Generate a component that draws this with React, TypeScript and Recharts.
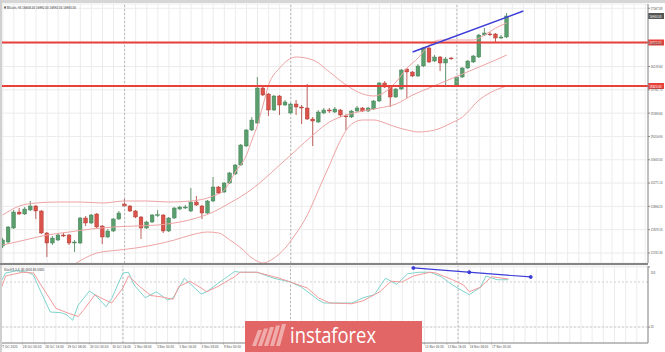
import {
  Bar, CartesianGrid, ComposedChart, Line, ReferenceDot, ReferenceLine, XAxis, YAxis,
} from 'recharts'

// Bitcoin H4 candles, 27 Oct 2020 08:00 .. 17 Nov 2020 12:00
const opens = [
  13264, 13328, 13552, 13808, 13776, 13840, 13904, 13824, 13472, 13312,
  13360, 13440, 13440, 13312, 13312, 13712, 13632, 13776, 13584, 13408,
  13504, 13696, 13936, 13904, 13824, 13728, 13552, 13648, 13755, 13760,
  13504, 13712, 13856, 13872, 13824, 13968, 13904, 13792, 13984, 14208,
  14128, 14272, 14416, 14560, 14864, 15120, 15232, 15792, 15696, 15440,
  15664, 15520, 15392, 15536, 15488, 15472, 15296, 15248, 15392, 15440,
  15408, 15440, 15344, 15328, 15424, 15472, 15424, 15456, 15584, 15872,
  15824, 15648, 15776, 16096, 16048, 15984, 16144, 16432, 16224, 16288,
  16192, 16272, 15824, 15968, 16112, 16208, 16288, 16640, 16656, 16656,
  16592, 16608,
]
const closes = [
  13360, 13568, 13808, 13776, 13856, 13904, 13824, 13472, 13312, 13392,
  13440, 13424, 13312, 13328, 13712, 13632, 13760, 13568, 13408, 13504,
  13696, 13792, 13904, 13824, 13728, 13552, 13648, 13760, 13765, 13504,
  13712, 13872, 13888, 13888, 13968, 13920, 13792, 13984, 14208, 14112,
  14272, 14432, 14560, 14880, 15120, 15280, 15792, 15680, 15440, 15664,
  15520, 15568, 15536, 15488, 15472, 15296, 15264, 15408, 15440, 15424,
  15456, 15360, 15336, 15424, 15472, 15424, 15472, 15584, 15872, 15808,
  15648, 15776, 16080, 16048, 15984, 16144, 16432, 16208, 16288, 16192,
  16256, 16264, 15968, 16112, 16224, 16304, 16640, 16672, 16648, 16592,
  16608, 16944,
]
const highs = [
  13392, 13584, 13840, 13872, 13888, 13984, 13920, 13840, 13488, 13424,
  13472, 13472, 13456, 13360, 13728, 13744, 13776, 13792, 13600, 13536,
  13712, 13824, 14016, 13920, 13840, 13744, 13664, 13776, 13840, 13776,
  13728, 13888, 13904, 13920, 14192, 14064, 13920, 14000, 14368, 14224,
  14288, 14448, 14576, 14896, 15136, 15328, 15968, 15808, 15712, 15680,
  15680, 15600, 15552, 15600, 15520, 15856, 15328, 15440, 15472, 15472,
  15488, 15456, 15376, 15440, 15504, 15488, 15488, 15600, 15888, 15904,
  15840, 15792, 16096, 16112, 16064, 16176, 16448, 16448, 16320, 16304,
  16288, 16288, 15984, 16128, 16240, 16320, 16656, 16752, 16688, 16672,
  16640, 16992,
]
const lows = [
  13232, 13296, 13536, 13760, 13760, 13824, 13696, 13456, 13088, 13280,
  13344, 13408, 13280, 13168, 13296, 13584, 13616, 13552, 13296, 13392,
  13488, 13680, 13888, 13808, 13712, 13376, 13536, 13632, 13728, 13472,
  13488, 13696, 13840, 13856, 13808, 13904, 13696, 13776, 13968, 14096,
  14112, 14256, 14400, 14544, 14848, 15104, 15216, 15664, 15344, 15424,
  15360, 15504, 15376, 15360, 15216, 15280, 14864, 15232, 15376, 15392,
  15392, 15328, 15120, 15312, 15408, 15408, 15408, 15440, 15568, 15792,
  15488, 15632, 15760, 15632, 15968, 15968, 16128, 16192, 16208, 16064,
  15840, 16240, 15808, 15952, 16096, 16192, 16272, 16624, 16624, 16512,
  16576, 16592,
]

// Bollinger bands, [bar index, price]
const bbUpper: [number, number][] = [
  [0, 13760], [3, 13904], [6, 13952], [10, 13968], [14, 13968], [18, 13952], [22, 13984],
  [26, 13984], [30, 13968], [34, 13984], [38, 14064], [40, 14160], [42, 14448], [44, 14720],
  [45, 14960], [46, 15200], [47, 15520], [48, 15840], [50, 16112], [53, 16288], [56, 16240],
  [59, 16048], [62, 15840], [65, 15696], [67, 15664], [69, 15728], [71, 15888], [73, 16112],
  [75, 16272], [77, 16480], [79, 16560], [82, 16560], [85, 16560], [87, 16640], [89, 16752],
  [91, 16832],
]
const bbMiddle: [number, number][] = [
  [0, 13280], [4, 13360], [8, 13440], [12, 13488], [16, 13536], [20, 13568], [24, 13584],
  [28, 13600], [32, 13648], [35, 13712], [38, 13808], [41, 13952], [44, 14112], [47, 14320],
  [50, 14560], [53, 14800], [56, 15040], [59, 15248], [62, 15360], [65, 15424], [68, 15472],
  [71, 15536], [74, 15680], [77, 15792], [80, 15904], [83, 16016], [86, 16128], [89, 16240],
  [91, 16320],
]
const bbLower: [number, number][] = [
  [13, 12976], [17, 13152], [21, 13200], [24, 13232], [28, 13296], [31, 13360], [34, 13440],
  [37, 13488], [39, 13472], [41, 13360], [43, 13232], [45, 13072], [47, 12992], [49, 13072],
  [51, 13232], [53, 13472], [55, 13760], [57, 14160], [59, 14560], [61, 14960], [63, 15216],
  [65, 15280], [67, 15280], [69, 15232], [71, 15168], [73, 15120], [75, 15088], [78, 15120],
  [81, 15232], [83, 15328], [86, 15600], [89, 15760], [91, 15824],
]

// Stochastic (5,3,3), [bar index, value]
const stochMain: [number, number][] = [
  [0, 78], [1, 92], [3, 95], [5, 93], [6, 89], [7, 72], [9, 40], [11, 39], [12, 36], [13, 29],
  [14, 49], [16, 68], [17, 63], [19, 47], [20, 58], [22, 92], [23, 93], [24, 76], [26, 59],
  [28, 67], [30, 56], [31, 59], [33, 85], [34, 78], [36, 64], [37, 67], [39, 78], [42, 94],
  [43, 93], [46, 93], [49, 85], [52, 80], [54, 73], [57, 56], [58, 52], [63, 52], [65, 59],
  [67, 63], [69, 85], [71, 77], [73, 91], [75, 93], [77, 93], [79, 87], [81, 76], [84, 63],
  [86, 73], [87, 88], [89, 83], [91, 83],
]
const stochSignal: [number, number][] = [
  [0, 67], [1, 88], [4, 93], [6, 92], [7, 80], [10, 45], [12, 39], [14, 34], [15, 43], [17, 63],
  [18, 59], [20, 52], [22, 72], [23, 88], [25, 74], [27, 62], [29, 60], [31, 57], [32, 74],
  [34, 81], [36, 72], [37, 67], [39, 74], [42, 87], [43, 93], [46, 93], [50, 85], [52, 80],
  [55, 72], [57, 59], [59, 52], [63, 51], [65, 55], [68, 67], [70, 81], [72, 80], [74, 88],
  [77, 93], [78, 92], [81, 83], [83, 76], [84, 67], [86, 73], [88, 87], [90, 85], [91, 84],
]

const priceTicks = [
  13152.4, 13338.85, 13525.3, 13711.75, 13898.2, 14084.65, 14271.1, 14457.55, 14644.0,
  14830.45, 15016.9, 15203.35, 15389.8, 15576.25, 15762.7, 15949.15, 16135.6, 16322.05,
  16508.5, 16694.95, 16881.4, 17067.85,
]
const levels = [16520, 15824]
const weekStarts = [22, 52, 82]
const timeLabels: [number, string][] = [
  [0, '27 Oct 2020'], [4, '28 Oct 00:00'], [8, '28 Oct 16:00'], [12, '29 Oct 08:00'],
  [16, '30 Oct 00:00'], [20, '30 Oct 16:00'], [24, '2 Nov 08:00'], [28, '3 Nov 00:00'],
  [32, '3 Nov 16:00'], [36, '4 Nov 08:00'], [40, '5 Nov 00:00'], [44, '5 Nov 16:00'],
  [48, '6 Nov 08:00'], [52, '9 Nov 00:00'], [56, '9 Nov 16:00'], [60, '10 Nov 08:00'],
  [64, '11 Nov 00:00'], [68, '11 Nov 16:00'], [72, '12 Nov 08:00'], [76, '13 Nov 00:00'],
  [80, '13 Nov 16:00'], [84, '16 Nov 08:00'], [88, '17 Nov 00:00'],
]
// trendlines drawn by hand on the chart
const priceTrend = [{ x: 74, y: 16368 }, { x: 94, y: 17024 }]
const stochTrend = [{ x: 74, y: 98.7 }, { x: 84, y: 93 }, { x: 95, y: 86.7 }]

const SLOTS = 117
const FONT = '"DejaVu Sans", sans-serif'
const GREEN = '#5b9e6e'
const RED = '#d9534a'
const BAND = '#eea3a3'
const last = opens.length - 1

const upMap = new Map(bbUpper)
const midMap = new Map(bbMiddle)
const lowMap = new Map(bbLower)
const kMap = new Map(stochMain)
const dMap = new Map(stochSignal)
const labelMap = new Map(timeLabels)
const gridTicks = Array.from({ length: Math.ceil(SLOTS / 2) }, (_, n) => n * 2)

const priceRows = Array.from({ length: SLOTS }, (_, i) => {
  const has = i < opens.length
  return {
    i,
    range: has ? [lows[i], highs[i]] : null,
    open: has ? opens[i] : null,
    close: has ? closes[i] : null,
    high: has ? highs[i] : null,
    low: has ? lows[i] : null,
    up: upMap.get(i) ?? null,
    mid: midMap.get(i) ?? null,
    lo: lowMap.get(i) ?? null,
  }
})
const stochRows = Array.from({ length: SLOTS }, (_, i) => ({
  i, k: kMap.get(i) ?? null, d: dMap.get(i) ?? null,
}))

function Candle(props: any) {
  const { x, y, width, height, payload } = props
  if (!payload || payload.open == null) return null
  const { open, close, high, low } = payload
  const top = Math.min(y, y + height)
  const h = Math.abs(height)
  const k = h / Math.max(high - low, 1)
  const py = (p: number) => top + (high - p) * k
  const cx = x + width / 2
  const bull = close >= open
  const fill = bull ? GREEN : RED
  const edge = bull ? '#3f7d52' : '#a93a32'
  const bTop = py(Math.max(open, close))
  const bH = Math.max(Math.abs(py(open) - py(close)), 0.8)
  return (
    <g>
      <line x1={cx} x2={cx} y1={top} y2={top + h} stroke={edge} strokeWidth={0.8} />
      <rect x={cx - 1.9} y={bTop} width={3.8} height={bH} fill={fill} stroke={edge} strokeWidth={0.4} />
    </g>
  )
}

function PriceTick({ x, y, payload }: any) {
  return (
    <text x={x} y={y + 1.4} fontSize={4} fill="#555" fontFamily={FONT}
      textLength={12} lengthAdjust="spacingAndGlyphs">
      {Number(payload.value).toFixed(2)}
    </text>
  )
}

function LevelTick({ x, y, payload }: any) {
  const s = String(payload.value)
  return (
    <text x={x} y={y + 1.4} fontSize={4} fill="#555" fontFamily={FONT}
      textLength={s.length * 1.6} lengthAdjust="spacingAndGlyphs">{s}</text>
  )
}

function TimeTick({ x, y, payload }: any) {
  const lbl = labelMap.get(payload.value)
  if (!lbl) return null
  return (
    <g>
      <line x1={x} x2={x} y1={y} y2={y + 1.5} stroke="#888" strokeWidth={0.6} />
      <text x={x + 0.5} y={y + 5.3} fontSize={4} fill="#555" fontFamily={FONT}
        textLength={lbl.length * 1.55} lengthAdjust="spacingAndGlyphs">{lbl}</text>
    </g>
  )
}

function Tag({ viewBox, text, fill }: any) {
  if (!viewBox) return null
  const x = viewBox.x + viewBox.width
  return (
    <g>
      <rect x={x} y={viewBox.y - 3} width={16} height={6} fill={fill} />
      <text x={x + 1.5} y={viewBox.y + 1.5} fontSize={4} fill="#fff" fontFamily={FONT}
        textLength={12} lengthAdjust="spacingAndGlyphs">{text}</text>
    </g>
  )
}

export default function App() {
  const title = `▼ Bitcoin, H4  ${opens[last].toFixed(2)}  ${highs[last].toFixed(2)}  ${lows[last].toFixed(2)}  ${closes[last].toFixed(2)}`
  const stochTitle = `Stoch(5,3,3) ${stochMain[stochMain.length - 1][1].toFixed(4)} ${stochSignal[stochSignal.length - 1][1].toFixed(4)}`
  return (
    <div style={{ position: 'absolute', left: 0, top: 0, width: 665, height: 352, background: '#fff', overflow: 'hidden' }}>
      <div style={{ position: 'absolute', left: 0, top: 0 }}>
        <ComposedChart width={665} height={264} data={priceRows} margin={{ top: 4, right: 0, bottom: 1, left: 0 }}>
          <CartesianGrid stroke="#ececec" />
          <XAxis dataKey="i" ticks={gridTicks} interval={0} hide />
          <YAxis orientation="right" width={17} domain={[12992, 17136]} ticks={priceTicks} allowDataOverflow
            tick={<PriceTick />} tickSize={2} tickMargin={0.5}
            axisLine={{ stroke: '#888' }} tickLine={{ stroke: '#888' }} />
          {weekStarts.map(w => (
            <ReferenceLine key={w} x={w} stroke="#a8a8a8" strokeDasharray="2 2" strokeWidth={0.8} />
          ))}
          <Line dataKey="up" stroke={BAND} strokeWidth={1} dot={false} connectNulls type="monotone" isAnimationActive={false} />
          <Line dataKey="mid" stroke={BAND} strokeWidth={1} dot={false} connectNulls type="monotone" isAnimationActive={false} />
          <Line dataKey="lo" stroke={BAND} strokeWidth={1} dot={false} connectNulls type="monotone" isAnimationActive={false} />
          <Bar dataKey="range" shape={<Candle />} isAnimationActive={false} />
          {levels.map(l => (
            <ReferenceLine key={l} y={l} stroke="#e8413c" strokeWidth={2}
              label={<Tag text={l.toFixed(2)} fill="#e8413c" />} />
          ))}
          <ReferenceLine y={closes[last]} stroke="none"
            label={<Tag text={closes[last].toFixed(2)} fill="#555" />} />
          <ReferenceLine segment={priceTrend} stroke="#3c3cd8" strokeWidth={1.5} ifOverflow="visible" />
        </ComposedChart>
      </div>

      <div style={{ position: 'absolute', left: 0, top: 264 }}>
        <ComposedChart width={665} height={88} data={stochRows} margin={{ top: 2, right: 0, bottom: 0, left: 0 }}>
          <CartesianGrid stroke="#ececec" />
          <XAxis dataKey="i" ticks={gridTicks} interval={0} height={9} tick={<TimeTick />}
            tickLine={false} tickSize={0} tickMargin={0} axisLine={{ stroke: '#888' }} />
          <YAxis orientation="right" width={17} domain={[-1.33, 101.33]} ticks={[0, 20, 80, 100]} allowDataOverflow
            tick={<LevelTick />} tickSize={2} tickMargin={0.5}
            axisLine={{ stroke: '#888' }} tickLine={{ stroke: '#888' }} />
          {weekStarts.map(w => (
            <ReferenceLine key={w} x={w} stroke="#a8a8a8" strokeDasharray="2 2" strokeWidth={0.8} />
          ))}
          <ReferenceLine y={20} stroke="#cfcfcf" strokeDasharray="2 2" />
          <ReferenceLine y={80} stroke="#cfcfcf" strokeDasharray="2 2" />
          <Line dataKey="k" stroke="#7fd4cf" strokeWidth={1} dot={false} connectNulls isAnimationActive={false} />
          <Line dataKey="d" stroke="#f29a9a" strokeWidth={1} dot={false} connectNulls isAnimationActive={false} />
          <ReferenceLine segment={[stochTrend[0], stochTrend[2]]} stroke="#3c3cd8" strokeWidth={1.2} ifOverflow="visible" />
          {stochTrend.map(p => (
            <ReferenceDot key={p.x} x={p.x} y={p.y} r={1.5} fill="#3c3cd8" stroke="#3c3cd8" ifOverflow="visible" />
          ))}
        </ComposedChart>
      </div>

      {/* frame pieces */}
      <div style={{ position: 'absolute', left: 0, top: 0, width: 665, height: 3, background: '#d6d6d6' }} />
      <div style={{ position: 'absolute', left: 0, top: 0, width: 2, height: 352, background: '#d0d0d0' }} />
      <div style={{ position: 'absolute', left: 0, top: 263, width: 648, height: 2, background: '#858585' }} />

      <svg width={665} height={352} style={{ position: 'absolute', left: 0, top: 0, pointerEvents: 'none' }}>
        <text x={4} y={9} fontSize={4} fill="#333" fontFamily={FONT}
          textLength={72} lengthAdjust="spacingAndGlyphs">{title}</text>
        <text x={4} y={270.5} fontSize={4} fill="#333" fontFamily={FONT}
          textLength={40} lengthAdjust="spacingAndGlyphs">{stochTitle}</text>
        {/* instaforex watermark */}
        <rect x={245} y={321} width={177} height={31} fill="#e36666" />
        {[0, 1, 2, 3, 4].map(n => (
          <polygon key={n}
            points={`${252 + n * 6},346 ${256 + n * 6},346 ${262 + n * 6},${330 - n * 1.5} ${258 + n * 6},${330 - n * 1.5}`}
            fill="#fff" fillOpacity={0.45} />
        ))}
        <text x={290} y={343} fontSize={21} fill="#fff" fontFamily='"Open Sans", sans-serif'
          textLength={86} lengthAdjust="spacingAndGlyphs">instaforex</text>
      </svg>
    </div>
  )
}
